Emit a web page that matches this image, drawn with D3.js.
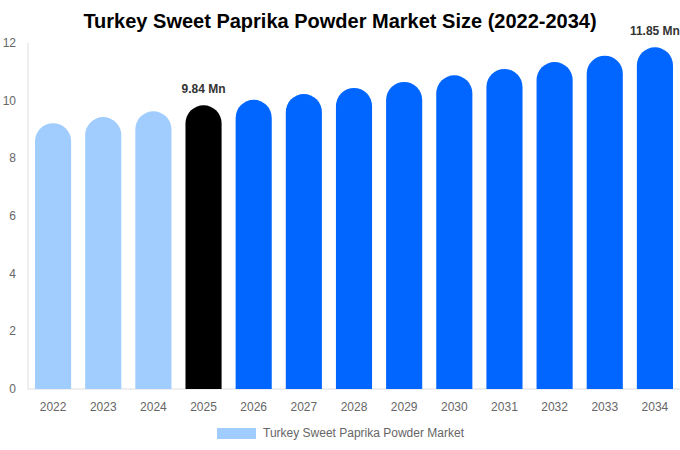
<!DOCTYPE html>
<html><head><meta charset="utf-8">
<script src="https://cdn.jsdelivr.net/npm/d3@7"></script>
<style>body{margin:0;background:#fff;font-family:"Liberation Sans",Arial,sans-serif;}</style>
</head><body><svg id="c" width="680" height="450"></svg>
<script>
const years = ["2022","2023","2024","2025","2026","2027","2028","2029","2030","2031","2032","2033","2034"];
const values = [9.22,9.43,9.63,9.84,10.03,10.23,10.44,10.65,10.88,11.1,11.34,11.56,11.85];
const kinds = ["hist","hist","hist","base","fore","fore","fore","fore","fore","fore","fore","fore","fore"];
const yTicks = [0,2,4,6,8,10,12];
const labelled = {"2025":"9.84 Mn","2034":"11.85 Mn"};
const colors = {hist:"#a0cdfe", base:"#000000", fore:"#0066ff"};

const svg = d3.select("#c");
const m = {l:28, r:680, t:43, b:389};
const x = d3.scaleBand().domain(years).range([m.l, m.r]).paddingInner(0.28).paddingOuter(0.14);
const y = d3.scaleLinear().domain([0,12]).range([m.b, m.t]);

svg.append("text").attr("x",340).attr("y",28).attr("text-anchor","middle")
  .attr("font-size",20).attr("font-weight","bold").attr("fill","#000")
  .text("Turkey Sweet Paprika Powder Market Size (2022-2034)");

// axes
svg.append("line").attr("x1",m.l).attr("x2",m.l).attr("y1",m.t).attr("y2",m.b).attr("stroke","#ddd");
svg.append("line").attr("x1",m.l).attr("x2",m.r).attr("y1",m.b).attr("y2",m.b).attr("stroke","#ddd");
svg.selectAll(".yt").data(yTicks).enter().append("text")
  .attr("x",16).attr("y",d=>y(d)+4).attr("text-anchor","end")
  .attr("font-size",12).attr("fill","#666").text(d=>d);
svg.selectAll(".xt").data(years).enter().append("text")
  .attr("x",d=>x(d)+x.bandwidth()/2).attr("y",411).attr("text-anchor","middle")
  .attr("font-size",12).attr("fill","#666").text(d=>d);

// bars
const bw = x.bandwidth();
function barPath(d,i){
  const x0 = x(d), x1 = x0+bw, r = bw/2;
  const top = y(values[i]), bot = y(0);
  return `M${x0},${bot}L${x0},${top+r}A${r},${r} 0 0 1 ${x1},${top+r}L${x1},${bot}Z`;
}
svg.selectAll(".bar").data(years).enter().append("path")
  .attr("d",barPath).attr("fill",(d,i)=>colors[kinds[i]]);

svg.selectAll(".lbl").data(years.filter(d=>labelled[d])).enter().append("text")
  .attr("x",d=>x(d)+bw/2).attr("y",d=>y(values[years.indexOf(d)])-12)
  .attr("text-anchor","middle").attr("font-size",12).attr("font-weight","bold").attr("fill","#333")
  .text(d=>labelled[d]);

// legend
svg.append("rect").attr("x",217).attr("y",428).attr("width",39).attr("height",11).attr("fill",colors.hist);
svg.append("text").attr("x",263).attr("y",437).attr("font-size",12).attr("fill","#666")
  .text("Turkey Sweet Paprika Powder Market");
</script></body></html>
